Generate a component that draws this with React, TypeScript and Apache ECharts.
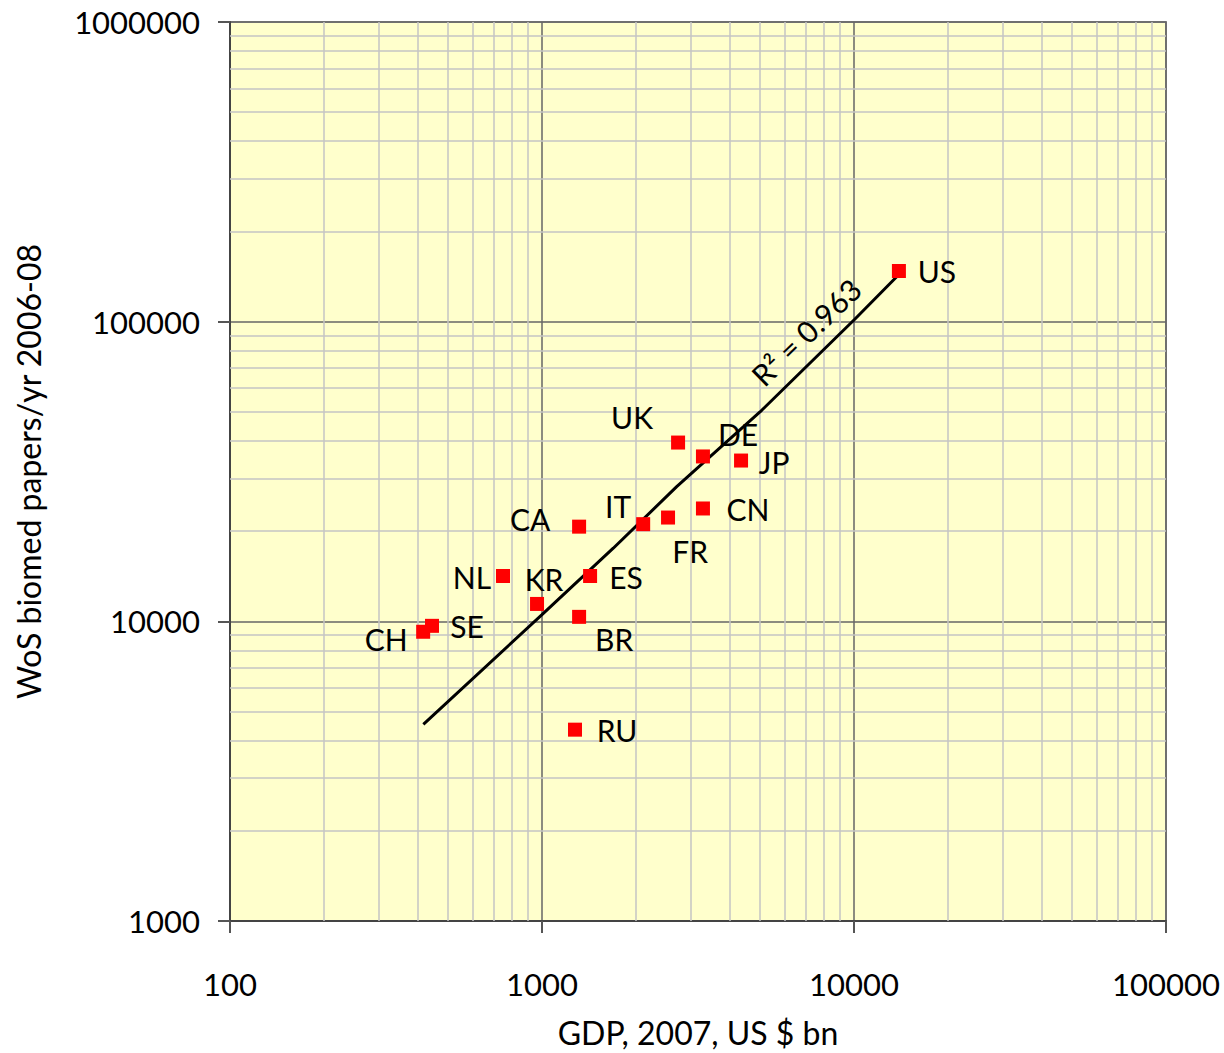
import React, { useEffect, useRef } from "react";
import * as echarts from "echarts";

// Country codes, GDP 2007 (US $ bn) and WoS biomedical papers per year 2006-08
const countries = ["US", "UK", "DE", "JP", "CN", "FR", "IT", "CA", "ES", "NL", "KR", "BR", "SE", "CH", "RU"];
const gdp = [13930, 2730, 3280, 4345, 3280, 2535, 2110, 1315, 1426, 750, 964, 1315, 444, 416, 1276];
const papers = [147600, 39500, 35500, 34400, 23800, 22200, 21100, 20700, 14170, 14170, 11430, 10350, 9660, 9230, 4350];

// Where each country code sits relative to its marker (px)
const labelOffsets: [number, number][] = [
  [38, 0], [-46, -26], [35, -22], [33, 1], [45, 1], [22, 33], [-25, -18], [-49, -8],
  [36, 1], [-31, 1], [7, -25], [35, 22], [35, 0], [-37, 7], [42, 0],
];

// Trend line through the cloud (GDP, papers)
const trendGdp = [416.6, 1000, 1692, 2702, 4996, 10074, 13804];
const trendPapers = [4534, 10527, 17540, 28140, 49960, 102100, 142240];
const rSquared = "0.963";

// Axis ranges (decades)
const xDecades = [100, 1000, 10000, 100000];
const yDecades = [1000, 10000, 100000, 1000000];

const FONT = "Lato";

function minorValues(decades: number[]): number[] {
  const out: number[] = [];
  for (let i = 0; i < decades.length - 1; i++) {
    for (let k = 2; k <= 9; k++) out.push(decades[i] * k);
  }
  return out;
}

export default function App() {
  const ref = useRef<HTMLDivElement>(null);

  useEffect(() => {
    document.body.style.margin = "0";
    if (!ref.current) return;
    const chart = echarts.init(ref.current, null, { renderer: "svg" });

    const minorLines = [
      ...minorValues(xDecades).map((v) => ({ xAxis: v })),
      ...minorValues(yDecades).map((v) => ({ yAxis: v })),
    ];

    const axisLabelStyle = {
      color: "#000",
      fontSize: 31,
      fontFamily: FONT,
      formatter: (v: number) => String(Math.round(v)),
    };

    chart.setOption({
      animation: false,
      textStyle: { fontFamily: FONT },
      grid: {
        left: 230,
        top: 22,
        right: 58,
        bottom: 129,
        show: true,
        backgroundColor: "#ffffcc",
        borderColor: "#8a8a8a",
        borderWidth: 2,
      },
      xAxis: {
        type: "log",
        logBase: 10,
        min: xDecades[0],
        max: xDecades[xDecades.length - 1],
        name: "GDP, 2007, US $ bn",
        nameLocation: "middle",
        nameGap: 95,
        nameTextStyle: { color: "#000", fontSize: 32, fontFamily: FONT },
        axisLine: { show: true, lineStyle: { color: "#444", width: 2 } },
        axisTick: { show: true, length: 12, lineStyle: { color: "#555", width: 2 } },
        axisLabel: { ...axisLabelStyle, margin: 47 },
        splitLine: { show: true, lineStyle: { color: "#666", width: 1.5 } },
      },
      yAxis: {
        type: "log",
        logBase: 10,
        min: yDecades[0],
        max: yDecades[yDecades.length - 1],
        name: "WoS biomed papers/yr 2006-08",
        nameLocation: "middle",
        nameGap: 186,
        nameRotate: 90,
        nameTextStyle: { color: "#000", fontSize: 32, fontFamily: FONT },
        axisLine: { show: true, lineStyle: { color: "#444", width: 2 } },
        axisTick: { show: true, length: 12, lineStyle: { color: "#555", width: 2 } },
        axisLabel: { ...axisLabelStyle, margin: 30 },
        splitLine: { show: true, lineStyle: { color: "#666", width: 1.5 } },
      },
      series: [
        {
          // minor log gridlines at 2..9 of each decade
          type: "line",
          data: [],
          z: 1,
          silent: true,
          markLine: {
            z: 1,
            silent: true,
            symbol: "none",
            label: { show: false },
            lineStyle: { color: "#c4c4c4", width: 1.5, type: "solid" },
            data: minorLines,
          },
        },
        {
          type: "line",
          z: 3,
          symbol: "none",
          smooth: false,
          lineStyle: { color: "#000", width: 3 },
          data: trendGdp.map((x, i) => [x, trendPapers[i]]),
          markPoint: {
            z: 6,
            symbol: "circle",
            symbolSize: 0,
            label: {
              show: true,
              formatter: "R² = " + rSquared,
              rotate: 44,
              color: "#000",
              fontSize: 30,
              fontFamily: FONT,
              position: "inside",
            },
            data: [{ coord: [7015, 92500] }],
          },
        },
        {
          type: "scatter",
          z: 4,
          symbol: "rect",
          symbolSize: 14,
          itemStyle: { color: "#ff0000", opacity: 1 },
          label: {
            show: true,
            position: "inside",
            formatter: "{b}",
            color: "#000",
            fontSize: 30,
            fontFamily: FONT,
            align: "center",
            verticalAlign: "middle",
          },
          data: countries.map((c, i) => ({
            name: c,
            value: [gdp[i], papers[i]],
            label: { offset: labelOffsets[i] },
          })),
        },
      ],
    });

    return () => chart.dispose();
  }, []);

  return <div ref={ref} style={{ width: 1224, height: 1053 }} />;
}
